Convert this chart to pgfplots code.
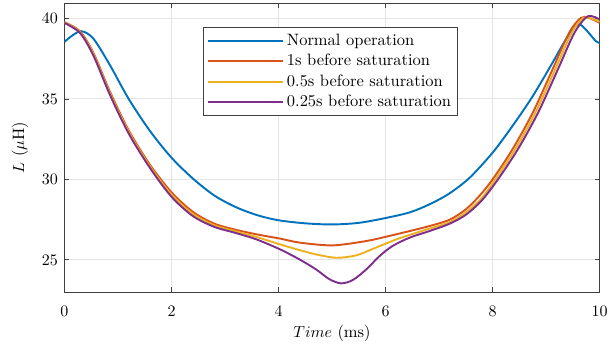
\documentclass[border=0pt]{standalone}
\usepackage{pgfplots}
\pgfplotsset{compat=1.18}
\definecolor{mblue}{rgb}{0,0.447,0.741}
\definecolor{morange}{rgb}{0.85,0.325,0.098}
\definecolor{myellow}{rgb}{0.929,0.694,0.125}
\definecolor{mpurple}{rgb}{0.494,0.184,0.556}
\begin{document}
\fontsize{10.3pt}{12.4pt}\selectfont
\begin{tikzpicture}
\path[use as bounding box] (-40.3pt,-35pt) rectangle (340.9pt,182.5pt);
\begin{axis}[
  at={(0,0)}, anchor=south west,
  scale only axis,
  width=334.4pt, height=180.6pt,
  xmin=0, xmax=10, ymin=23, ymax=40.96,
  xtick={0,2,4,6,8,10}, ytick={25,30,35,40},
  tick align=inside, major tick length=3pt,
  axis line style={black!75}, tick style={black!75, line width=0.5pt},
  grid=major, grid style={black!10, line width=0.6pt},
  xticklabel style={yshift=-5pt},
  yticklabel style={xshift=-0.5pt},
  xlabel={$Time$ (ms)}, ylabel={$L$ ($\mu$H)},
  every axis x label/.style={at={(axis description cs:0.5,0)}, yshift=-25.6pt, anchor=center},
  every axis y label/.style={at={(axis description cs:0,0.5)}, xshift=-27.8pt, rotate=90, anchor=center},
  legend style={at={(rel axis cs:0.259,0.917)}, anchor=north west, draw=black!75, line width=0.5pt, inner sep=2pt},
  legend cell align=left,
  legend image code/.code={\draw[#1, line width=1.2pt] (0cm,0cm) -- (1.65cm,0cm);},
  every axis plot/.append style={line width=1.2pt, smooth, tension=0.5},
]
\addplot[mblue] coordinates {
(0,38.55) (0.15,38.95) (0.32,39.21) (0.54,38.75) (0.85,37.1) (1.2,35.0) (1.6,33.0) (2.0,31.35) (2.4,30.05) (2.8,29.0) (3.2,28.28) (3.6,27.78) (4.0,27.46) (4.5,27.27) (5.0,27.2) (5.5,27.3) (6.0,27.6) (6.45,27.95) (6.82,28.45) (7.19,29.12) (7.57,30.1) (8.0,31.66) (8.37,33.31) (8.75,35.17) (9.12,37.25) (9.37,38.7) (9.59,39.63) (9.74,39.32) (9.93,38.59) (10,38.5)};
\addlegendentry{Normal operation}
\addplot[morange] coordinates {
(0,39.77) (0.29,39.2) (0.54,37.87) (0.85,35.45) (1.2,33.05) (1.6,30.9) (2.0,29.2) (2.4,27.98) (2.8,27.25) (3.2,26.87) (3.6,26.58) (4.03,26.32) (4.4,26.07) (5.01,25.9) (5.64,26.17) (6.01,26.44) (6.45,26.79) (6.82,27.1) (7.2,27.5) (7.5,28.14) (7.75,28.96) (8.0,30.0) (8.37,31.86) (8.75,34.14) (9.12,36.83) (9.43,39.11) (9.65,40.04) (9.8,40.04) (10,39.73)};
\addlegendentry{1s before saturation}
\addplot[myellow] coordinates {
(0,39.75) (0.29,39.15) (0.54,37.8) (0.85,35.35) (1.2,32.95) (1.6,30.8) (2.0,29.05) (2.4,27.85) (2.8,27.15) (3.2,26.77) (3.59,26.42) (4.03,25.96) (4.39,25.61) (4.7,25.34) (5.08,25.13) (5.45,25.28) (5.82,25.76) (6.2,26.27) (6.45,26.55) (6.82,26.94) (7.2,27.35) (7.5,27.95) (7.8,28.85) (8.05,30.0) (8.42,31.86) (8.8,34.14) (9.17,36.83) (9.48,39.11) (9.7,40.04) (9.85,40.0) (10,39.8)};
\addlegendentry{0.5s before saturation}
\addplot[mpurple] coordinates {
(0,39.72) (0.29,39.1) (0.54,37.7) (0.85,35.25) (1.2,32.85) (1.6,30.7) (2.0,28.92) (2.4,27.72) (2.8,27.05) (3.2,26.67) (3.59,26.27) (4.03,25.65) (4.39,25.03) (4.7,24.41) (4.95,23.8) (5.17,23.54) (5.39,23.75) (5.64,24.41) (5.89,25.24) (6.13,25.86) (6.45,26.38) (6.82,26.79) (7.2,27.25) (7.5,27.8) (7.8,28.7) (8.1,30.0) (8.47,31.86) (8.85,34.14) (9.22,36.83) (9.53,39.11) (9.78,40.14) (10,39.94)};
\addlegendentry{0.25s before saturation}
\end{axis}
\end{tikzpicture}
\end{document}
